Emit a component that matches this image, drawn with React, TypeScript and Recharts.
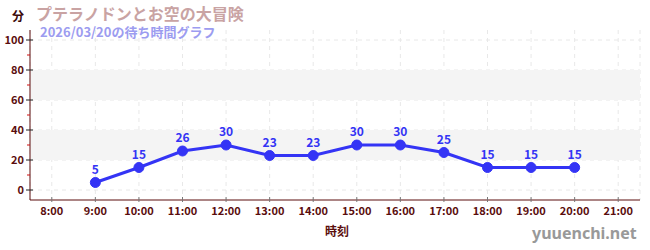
import { CartesianGrid, LabelList, Line, LineChart, ReferenceArea, XAxis, YAxis } from "recharts";

const hours = ["8:00", "9:00", "10:00", "11:00", "12:00", "13:00", "14:00", "15:00", "16:00", "17:00", "18:00", "19:00", "20:00", "21:00"];
const waits: (number | null)[] = [null, 5, 15, 26, 30, 23, 23, 30, 30, 25, 15, 15, 15, null];
const yTicks = [0, 10, 20, 30, 40, 50, 60, 70, 80, 90, 100];
const bands: [number, number][] = [[20, 40], [60, 80]];

const FONT = "'Noto Sans CJK JP', 'Noto Sans', sans-serif";
const AXIS = "#5a0d0d";
const BLUE = "#3434f5";

const data = hours.map((h, i) => ({ i, h, y: waits[i] }));

function YTick({ x, y, payload }: any) {
  const v = payload.value as number;
  if (v % 20 !== 0) {
    return <line x1={x - 3} x2={x} y1={y} y2={y} stroke="#d01010" strokeWidth={1} />;
  }
  return (
    <g>
      <line x1={x - 4} x2={x + 3} y1={y} y2={y} stroke="#222" strokeWidth={1} />
      <text x={x - 6} y={y} dy={4} textAnchor="end" fontSize={11} fontWeight={700} fill={AXIS} fontFamily={FONT}>
        {v}
      </text>
    </g>
  );
}

function XTick({ x, y, payload }: any) {
  return (
    <g>
      <line x1={x} x2={x} y1={y - 3} y2={y + 2} stroke="#777" strokeWidth={1} />
      <text x={x} y={y + 15} textAnchor="middle" fontSize={11} fontWeight={700} fill={AXIS} fontFamily={FONT}>
        {hours[payload.value]}
      </text>
    </g>
  );
}

export default function App() {
  return (
    <div style={{ position: "absolute", left: 0, top: 0, width: 650, height: 250, background: "#fff", fontFamily: FONT }}>
      <LineChart width={650} height={250} data={data} margin={{ top: 30, right: 10, left: 0, bottom: 30 }}>
        {bands.map(([a, b]) => (
          <ReferenceArea key={a} y1={a} y2={b} fill="#f4f4f4" fillOpacity={1} stroke="none" />
        ))}
        <CartesianGrid stroke="#e8e8e8" strokeDasharray="4 4" horizontalValues={[0, 20, 40, 60, 80, 100]} />
        <XAxis
          dataKey="i"
          type="number"
          domain={[-0.5, 13.5]}
          ticks={hours.map((_, i) => i)}
          interval={0}
          height={20}
          stroke={AXIS}
          tickLine={false}
          tickSize={0}
          tickMargin={0}
          tick={<XTick />}
        />
        <YAxis
          type="number"
          domain={[-20 / 3, 320 / 3]}
          ticks={yTicks}
          interval={0}
          width={30}
          stroke={AXIS}
          tickLine={false}
          tickSize={0}
          tickMargin={0}
          tick={<YTick />}
          allowDataOverflow
        />
        <Line
          dataKey="y"
          stroke={BLUE}
          strokeWidth={3}
          dot={{ r: 5, fill: BLUE, stroke: BLUE, strokeWidth: 1 }}
          isAnimationActive={false}
        >
          <LabelList dataKey="y" position="top" offset={9} fill={BLUE} fontSize={12} fontWeight={700} fontFamily={FONT} />
        </Line>
      </LineChart>
      <div style={{ position: "absolute", left: 12, top: 8, fontSize: 12, fontWeight: 700, color: "#3a0808", lineHeight: "16px" }}>分</div>
      <div style={{ position: "absolute", left: 36, top: 4, fontSize: 16, fontWeight: 700, color: "#c9a3a3", lineHeight: "19px" }}>
        プテラノドンとお空の大冒険
      </div>
      <div style={{ position: "absolute", left: 40, top: 25, fontSize: 13, fontWeight: 700, color: "#9c9cf0", lineHeight: "14px" }}>
        2026/03/20の待ち時間グラフ
      </div>
      <div style={{ position: "absolute", left: 325, top: 222, fontSize: 12, fontWeight: 700, color: AXIS }}>時刻</div>
      <div style={{ position: "absolute", left: 532, top: 222, fontSize: 16, fontWeight: 700, color: "#999", fontFamily: "'Noto Sans', sans-serif" }}>
        yuuenchi.net
      </div>
    </div>
  );
}
